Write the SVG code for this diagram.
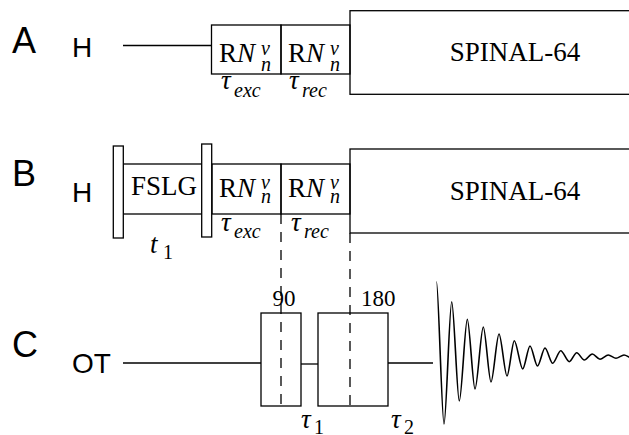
<svg xmlns="http://www.w3.org/2000/svg" width="629" height="435" viewBox="0 0 629 435">
<style>
.ln{stroke:#000;stroke-width:1.3;fill:none}
.box{stroke:#000;stroke-width:1.3;fill:none}
.pul{stroke:#000;stroke-width:1.3;fill:#fff}
.dash{stroke:#000;stroke-width:1.3;stroke-dasharray:10 8;fill:none}
.lab{font-family:"Liberation Sans",Arial,sans-serif;fill:#000}
.big{font-size:36px}
.ch{font-size:28px}
.sf{font-family:"Liberation Serif","Times New Roman",serif;fill:#000}
.m{font-size:27px}
.s{font-size:20px}
.it{font-style:italic}
.fid{stroke:#000;stroke-width:1.6;fill:none;stroke-linejoin:round}
</style>
<rect width="629" height="435" fill="#fff"/>
<g id="panelA">
  <text class="lab big" x="12" y="53">A</text>
  <text class="lab ch" x="72" y="57">H</text>
  <g id="A-line"><line class="ln" x1="123" y1="45.5" x2="211" y2="45.5"/></g>
  <g id="A-exc">
    <rect class="box" x="211.5" y="25" width="69.5" height="49"/>
    <text class="sf m" x="219" y="62">R<tspan class="it">N</tspan></text>
    <text class="sf s it" x="261" y="55">ν</text>
    <text class="sf s it" x="261" y="71">n</text>
    <text class="sf m it" x="221" y="89">τ</text>
    <text class="sf s it" x="234" y="97">exc</text>
  </g>
  <g id="A-rec">
    <rect class="box" x="281" y="25" width="69" height="49"/>
    <text class="sf m" x="288" y="62">R<tspan class="it">N</tspan></text>
    <text class="sf s it" x="330" y="55">ν</text>
    <text class="sf s it" x="330" y="71">n</text>
    <text class="sf m it" x="289" y="89">τ</text>
    <text class="sf s it" x="302" y="97">rec</text>
  </g>
  <g id="A-spinal">
    <rect class="box" x="350" y="10.7" width="300" height="83.6"/>
    <text class="sf m" x="515" y="60.5" text-anchor="middle">SPINAL-64</text>
  </g>
</g>
<g id="panelB">
  <text class="lab big" x="12" y="186">B</text>
  <text class="lab ch" x="72" y="202">H</text>
  <g id="B-fslg">
    <rect class="box" x="123" y="164" width="79" height="50"/>
    <text class="sf m" x="131" y="195">FSLG</text>
    <text class="sf m it" x="150" y="253">t</text>
    <text class="sf s" x="163" y="259">1</text>
  </g>
  <g id="B-exc">
    <rect class="box" x="212" y="164" width="69" height="50"/>
    <text class="sf m" x="219" y="197">R<tspan class="it">N</tspan></text>
    <text class="sf s it" x="261" y="189">ν</text>
    <text class="sf s it" x="261" y="203">n</text>
    <text class="sf m it" x="221" y="231">τ</text>
    <text class="sf s it" x="234" y="238">exc</text>
  </g>
  <g id="B-rec">
    <rect class="box" x="281" y="164" width="69" height="50"/>
    <text class="sf m" x="288" y="197">R<tspan class="it">N</tspan></text>
    <text class="sf s it" x="330" y="189">ν</text>
    <text class="sf s it" x="330" y="203">n</text>
    <text class="sf m it" x="291" y="231">τ</text>
    <text class="sf s it" x="304" y="238">rec</text>
  </g>
  <g id="B-spinal">
    <rect class="box" x="350" y="149" width="300" height="84"/>
    <text class="sf m" x="515" y="200" text-anchor="middle">SPINAL-64</text>
  </g>
  <g id="B-pulse1"><rect class="pul" x="113.3" y="146" width="10" height="92"/></g>
  <g id="B-pulse2"><rect class="pul" x="201.7" y="144" width="10" height="93"/></g>
</g>
<g id="connectors">
  <line class="dash" x1="281" y1="214" x2="281" y2="406"/>
  <line class="dash" x1="350" y1="233" x2="350" y2="406"/>
</g>
<g id="panelC">
  <text class="lab big" x="12" y="357">C</text>
  <text class="lab ch" x="72" y="373">OT</text>
  <g id="C-lines">
    <line class="ln" x1="123" y1="363" x2="261" y2="363"/>
    <line class="ln" x1="301" y1="364" x2="318" y2="364"/>
    <line class="ln" x1="388" y1="363" x2="433" y2="363"/>
  </g>
  <g id="C-90">
    <rect class="box" x="261" y="313" width="40" height="93"/>
    <text class="sf" font-size="23" x="284" y="306" text-anchor="middle">90</text>
  </g>
  <g id="C-180">
    <rect class="box" x="318" y="313" width="70" height="93"/>
    <text class="sf" font-size="23" x="361" y="306">180</text>
  </g>
  <text class="sf m it" x="301" y="428">τ</text>
  <text class="sf s" x="314" y="434">1</text>
  <text class="sf m it" x="391" y="428">τ</text>
  <text class="sf s" x="404" y="434">2</text>
  <g id="C-fid">
    <path class="fid" d="M436.5,281.7 C438.5,281.7 441.8,424 444,424 C446.3,424 449.4,301.7 451.7,301.7 C454,301.7 457,401 459.3,401 C461.7,401 465,319.3 467.3,319.3 C469.6,319.3 472.7,389 475,389 C477.5,389 480.8,327 483.3,327 C485.6,327 488.7,382 491,382 C493.4,382 496.6,334 499,334 C501.4,334 504.6,376 507,376 C509.2,376 512.1,340.7 514.3,340.7 C516.8,340.7 520.2,369 522.7,369 C524.9,369 527.8,346 530,346 C532.3,346 535.2,366 537.5,366 C539.8,366 542.7,348 545,348 C547.3,348 550.4,363.3 552.7,363.3 C555.1,363.3 558.3,350.7 560.7,350.7 C563.3,350.7 566.7,361.7 569.3,361.7 C571.5,361.7 574.5,352.7 576.7,352.7 C579,352.7 582,360 584.3,360 C586.7,360 589.9,354 592.3,354 C594.6,354 597.7,359.3 600,359.3 C602.5,359.3 605.8,355 608.3,355 C610.6,355 613.7,358.3 616,358.3 C618.4,358.3 621.6,355 624,355 C626.4,355 628,357 631,358"/>
  </g>
</g>
</svg>
